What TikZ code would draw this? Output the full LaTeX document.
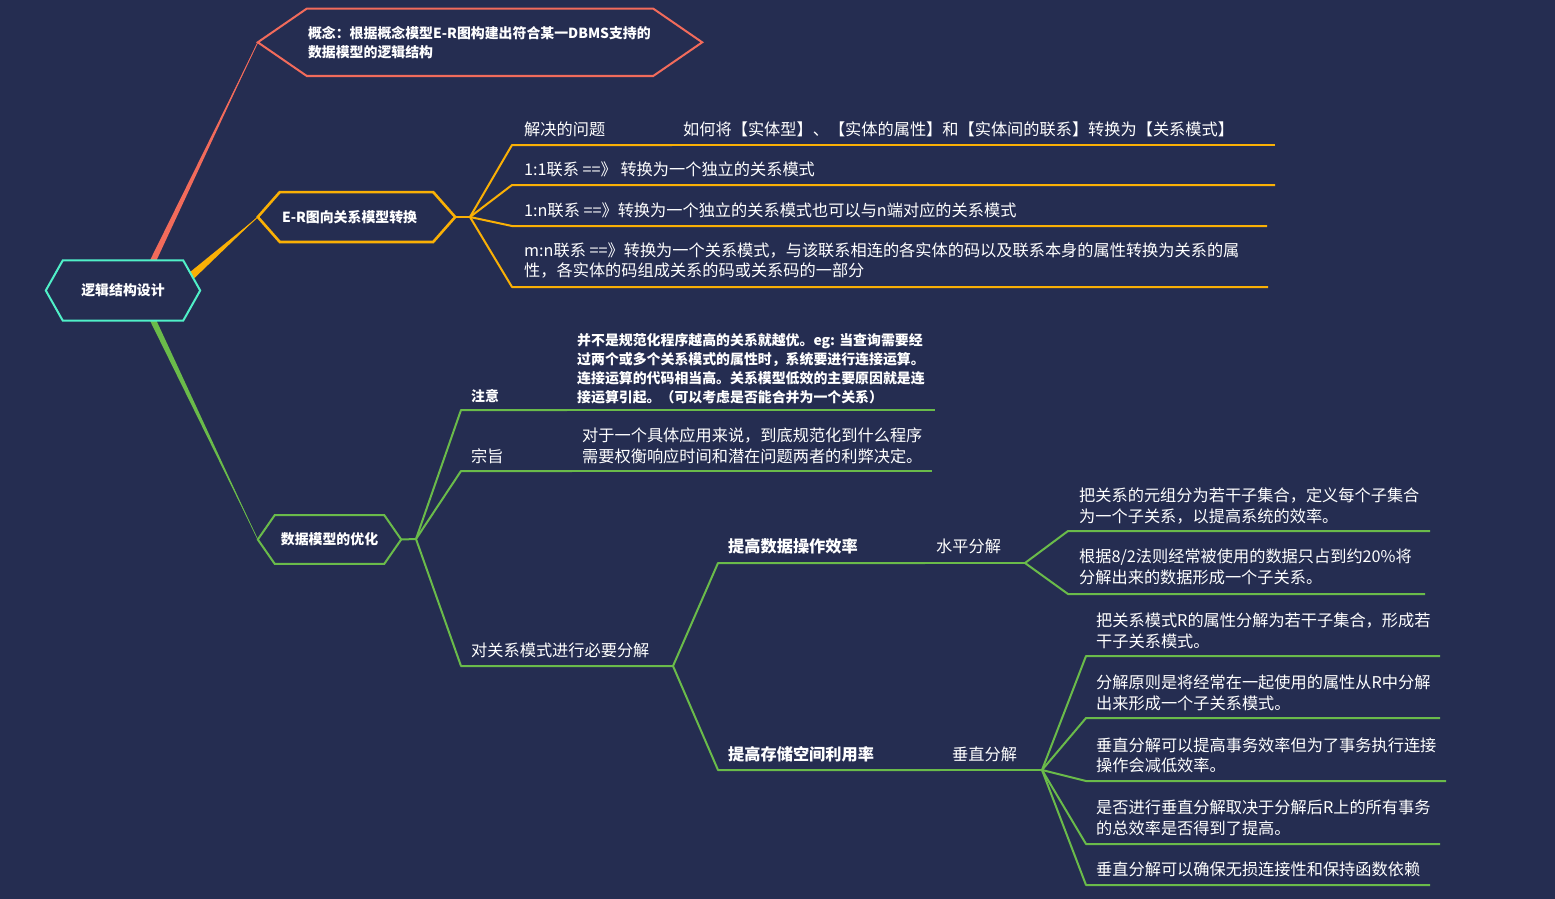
\documentclass[tikz,border=0pt]{standalone}
\usepackage{fontspec}
\setmainfont{Noto Sans CJK SC}
\usetikzlibrary{calc}
\definecolor{bg}{RGB}{37,45,81}
\definecolor{txt}{RGB}{255,255,255}
\definecolor{cred}{RGB}{242,107,91}
\definecolor{corange}{RGB}{250,176,5}
\definecolor{cgreen}{RGB}{106,187,74}
\definecolor{cteal}{RGB}{80,240,200}
\pgfdeclarelayer{back}
\pgfdeclarelayer{mid}
\pgfsetlayers{back,mid,main}
\newcommand{\fsN}{\fontsize{16.2pt}{20.5pt}\selectfont}
\newcommand{\fsNb}{\fontsize{16.2pt}{20.5pt}\selectfont\bfseries}
\newcommand{\fsS}{\fontsize{13.9pt}{18.9pt}\selectfont\bfseries}
\newcommand{\fsH}{\fontsize{13.9pt}{19pt}\selectfont\bfseries}
\newcommand{\hexframe}[3]{\begin{pgfonlayer}{mid}\draw[#2,fill=bg,line join=miter] (#1.west) -- ([xshift=#3]#1.north west) -- ([xshift=-#3]#1.north east) -- (#1.east) -- ([xshift=-#3]#1.south east) -- ([xshift=#3]#1.south west) -- cycle;\end{pgfonlayer}}
\tikzset{
  lbl/.style={anchor=west, inner sep=0pt, text=txt, font=\fsN, align=left},
  blbl/.style={lbl, font=\fsNb},
  sml/.style={lbl, font=\fsS},
  hexnode/.style={inner sep=0pt, text=txt, font=\fsH},
  gline/.style={cgreen, line width=2pt, line join=round},
  oline/.style={corange, line width=2pt, line join=round},
}
\begin{document}
\begin{tikzpicture}[x=1pt,y=-1pt]
\useasboundingbox (0,0) rectangle (1555,899);
\begin{pgfonlayer}{back}\fill[bg] (0,0) rectangle (1555,899);\end{pgfonlayer}

% main nodes
\node[hexnode, minimum width=154pt, minimum height=60pt] (root) at (123,290.5) {逻辑结构设计};
\hexframe{root}{cteal, line width=2pt}{17pt}
\node[hexnode, inner xsep=50pt, text width=344pt, minimum height=67pt, align=left] (concept) at (480,42.3) {概念：根据概念模型E-R图构建出符合某一DBMS支持的\\数据模型的逻辑结构};
\hexframe{concept}{cred, line width=2pt}{49pt}
\node[hexnode, inner xsep=24pt, text width=149pt, minimum height=49.5pt, align=left] (er) at (356.5,217) {E-R图向关系模型转换};
\hexframe{er}{corange, line width=2.6pt}{22pt}
\node[hexnode, minimum width=143pt, minimum height=48.5pt] (data) at (329.5,539.5) {数据模型的优化};
\hexframe{data}{cgreen, line width=2pt}{17pt}

% tapered main connectors
\begin{pgfonlayer}{back}
\fill[cred] ($(root.north)+(27,0)$) -- ($(root.north)+(33.5,0)$) -- (concept.west) -- cycle;
\draw[cred, line width=0.8pt] ($(root.north)+(30,0)$) -- (concept.west);
\fill[corange] ($(root.center)+(66.5,-18)$) -- ($(root.center)+(71.5,-12.5)$) -- (er.west) -- cycle;
\draw[corange, line width=0.8pt] ($(root.center)+(69,-15)$) -- (er.west);
\fill[cgreen] ($(root.south)+(27,0)$) -- ($(root.south)+(33.5,0)$) -- (data.west) -- cycle;
\draw[cgreen, line width=0.6pt] ($(root.south)+(30,0)$) -- (data.west);
\end{pgfonlayer}

% E-R branch
\coordinate (erhub) at (470,217);
\coordinate (a0s) at (512,145); \coordinate (a0m) at (672,145); \coordinate (a0e) at (1275,145);
\coordinate (a1s) at (512,185); \coordinate (a1e) at (1275,185);
\coordinate (a2s) at (512,226); \coordinate (a2e) at (1267,226);
\coordinate (a3s) at (512,287); \coordinate (a3e) at (1268,287);
\draw[oline] (er.east) -- (erhub);
\draw[oline] (erhub) -- (a0s) -- (a0m);
\draw[oline] (a0m) -- (a0e);
\draw[oline] (erhub) -- (a1s) -- (a1e);
\draw[oline] (erhub) -- (a2s) -- (a2e);
\draw[oline] (erhub) -- (a3s) -- (a3e);
\node[lbl] (t0) at (524,129) {解决的问题};
\node[lbl] (t0c) at (683,129) {如何将【实体型】、【实体的属性】和【实体间的联系】转换为【关系模式】};
\node[lbl] (t1) at (524,169) {1:1联系 ==》 转换为一个独立的关系模式};
\node[lbl] (t2) at (524,210) {1:n联系 ==》转换为一个独立的关系模式也可以与n端对应的关系模式};
\node[lbl] (t3) at (524,260.5) {m:n联系 ==》转换为一个关系模式，与该联系相连的各实体的码以及联系本身的属性转换为关系的属\\性，各实体的码组成关系的码或关系码的一部分};

% data branch
\coordinate (dhub) at (416,539);
\coordinate (v0s) at (461,410); \coordinate (v0m) at (567,410); \coordinate (v0e) at (935,410);
\coordinate (v1s) at (461,471); \coordinate (v1m) at (572,471); \coordinate (v1e) at (932,471);
\coordinate (v2s) at (461,666); \coordinate (v2e) at (673,666);
\draw[gline] (data.east) -- (dhub);
\draw[gline] (dhub) -- (v0s) -- (v0m);
\draw[gline] (v0m) -- (v0e);
\draw[gline] (dhub) -- (v1s) -- (v1m);
\draw[gline] (v1m) -- (v1e);
\draw[gline] (dhub) -- (v2s) -- (v2e);
\node[lbl, font=\fsS] (n0) at (471,396) {注意};
\node[sml] (n0c) at (577,369) {并不是规范化程序越高的关系就越优。eg: 当查询需要经\\过两个或多个关系模式的属性时，系统要进行连接运算。\\连接运算的代码相当高。关系模型低效的主要原因就是连\\接运算引起。（可以考虑是否能合并为一个关系）};
\node[lbl] (n1) at (471,456) {宗旨};
\node[lbl] (n1c) at (582,446) {对于一个具体应用来说，到底规范化到什么程序\\需要权衡响应时间和潜在问题两者的利弊决定。};
\node[lbl] (n2) at (471,650) {对关系模式进行必要分解};

% decomposition
\coordinate (w0s) at (718,563); \coordinate (w0m) at (925,563); \coordinate (w0e) at (1025,563);
\coordinate (w1s) at (718,770); \coordinate (w1m) at (940,770); \coordinate (w1e) at (1042,770);
\draw[gline] (v2e) -- (w0s) -- (w0m);
\draw[gline] (w0m) -- (w0e);
\draw[gline] (v2e) -- (w1s) -- (w1m);
\draw[gline] (w1m) -- (w1e);
\node[blbl] (m0) at (728,546) {提高数据操作效率};
\node[lbl] (m0c) at (936,546) {水平分解};
\node[blbl] (m1) at (728,754) {提高存储空间利用率};
\node[lbl] (m1c) at (952,754) {垂直分解};

% horizontal
\coordinate (h0s) at (1068,531); \coordinate (h0e) at (1430,531);
\coordinate (h1s) at (1068,594); \coordinate (h1e) at (1425,594);
\draw[gline] (w0e) -- (h0s) -- (h0e);
\draw[gline] (w0e) -- (h1s) -- (h1e);
\node[lbl] (ht0) at (1079,506) {把关系的元组分为若干子集合，定义每个子集合\\为一个子关系，以提高系统的效率。};
\node[lbl] (ht1) at (1079,567) {根据8/2法则经常被使用的数据只占到约20\%将\\分解出来的数据形成一个子关系。};

% vertical
\coordinate (g0s) at (1086,656); \coordinate (g0e) at (1440,656);
\coordinate (g1s) at (1086,718); \coordinate (g1e) at (1440,718);
\coordinate (g2s) at (1086,781); \coordinate (g2e) at (1446,781);
\coordinate (g3s) at (1086,844); \coordinate (g3e) at (1440,844);
\coordinate (g4s) at (1086,885); \coordinate (g4e) at (1430,885);
\draw[gline] (w1e) -- (g0s) -- (g0e);
\draw[gline] (w1e) -- (g1s) -- (g1e);
\draw[gline] (w1e) -- (g2s) -- (g2e);
\draw[gline] (w1e) -- (g3s) -- (g3e);
\draw[gline] (w1e) -- (g4s) -- (g4e);
\node[lbl] (gt0) at (1096,631) {把关系模式R的属性分解为若干子集合，形成若\\干子关系模式。};
\node[lbl] (gt1) at (1096,693) {分解原则是将经常在一起使用的属性从R中分解\\出来形成一个子关系模式。};
\node[lbl] (gt2) at (1096,755.5) {垂直分解可以提高事务效率但为了事务执行连接\\操作会减低效率。};
\node[lbl] (gt3) at (1096,818) {是否进行垂直分解取决于分解后R上的所有事务\\的总效率是否得到了提高。};
\node[lbl] (gt4) at (1096,869) {垂直分解可以确保无损连接性和保持函数依赖};
\end{tikzpicture}
\end{document}
